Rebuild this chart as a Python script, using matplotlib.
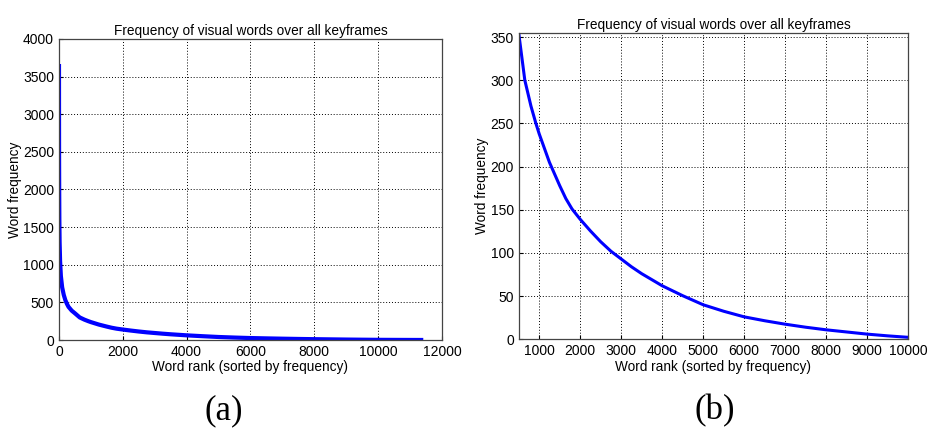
import matplotlib
matplotlib.use("Agg")
import matplotlib.pyplot as plt

# word rank vs frequency
ranks = [1, 2, 4, 7, 12, 20, 35, 60, 100, 150, 200, 250, 300, 400, 500,
         650, 800, 920, 1000, 1250, 1500, 1650, 1800, 2000, 2250, 2500, 2750,
         3000, 3250, 3500, 3750, 4000, 4500, 5000, 5500, 6000, 6500, 7000,
         7500, 8000, 8500, 9000, 9500, 10000, 10500, 11000, 11350]
freqs = [3640, 3000, 2400, 2000, 1600, 1300, 1050, 850, 700, 600, 530, 480,
         440, 390, 355,
         300, 270, 250, 238, 205, 178, 163, 151, 139, 125.5, 113, 102,
         93, 84, 76, 69, 62, 50.5, 40, 32.5, 26, 21.5, 17.5,
         14, 11, 8.5, 6, 4, 2.3, 1.5, 0.8, 0.4]

title = "Frequency of visual words over all keyframes"
xlab = "Word rank (sorted by frequency)"
ylab = "Word frequency"

plt.rcParams['font.family'] = ['Liberation Sans', 'DejaVu Sans']

fig = plt.figure(figsize=(9.3, 4.28), dpi=100)
ax1 = fig.add_axes([0.0634, 0.2056, 0.4118, 0.7033])
ax2 = fig.add_axes([0.5577, 0.2072, 0.4189, 0.7164])

# (a) full range
ax1.plot(ranks, freqs, color='blue', lw=3)
ax1.set_xlim(0, 12000)
ax1.set_ylim(0, 4000)
ax1.set_xticks(range(0, 12001, 2000))
ax1.set_yticks(range(0, 4001, 500))

# (b) zoomed in on the tail
ax2.plot(ranks, freqs, color='blue', lw=2.2)
ax2.set_xlim(500, 10000)
ax2.set_ylim(0, 355)
ax2.set_xticks(range(1000, 10001, 1000))
ax2.set_yticks(range(0, 351, 50))

for ax in (ax1, ax2):
    ax.grid(True, color='black', linestyle=(0, (1, 2)), linewidth=0.7)
    ax.tick_params(direction='in', labelsize=10, length=3, pad=3.5)
    for s in ax.spines.values():
        s.set_color('#444444')
        s.set_linewidth(0.9)
    ax.set_title(title, fontsize=9.8, pad=3)
    ax.set_xlabel(xlab, fontsize=9.8, labelpad=1)
    ax.set_ylabel(ylab, fontsize=9.8, labelpad=1)

fig.text(0.241, 0.02, "(a)", fontsize=25, family='Liberation Serif', ha='center')
fig.text(0.769, 0.02, "(b)", fontsize=25, family='Liberation Serif', ha='center')

fig.savefig("out.png", dpi=100)
